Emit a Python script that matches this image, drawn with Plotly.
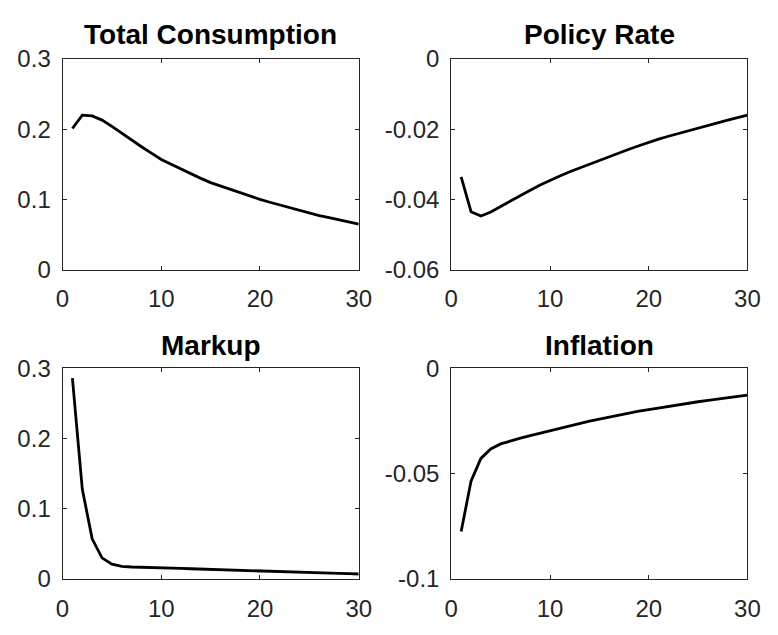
import plotly.graph_objects as go

periods = list(range(1, 31))

total_consumption = [0.201, 0.220, 0.219, 0.213, 0.204, 0.194, 0.184, 0.175, 0.166, 0.157,
                     0.150, 0.143, 0.136, 0.130, 0.124, 0.119, 0.114, 0.109, 0.104, 0.100,
                     0.096, 0.092, 0.088, 0.084, 0.081, 0.077, 0.074, 0.071, 0.068, 0.065]

policy_rate = [-0.0336, -0.0435, -0.0447, -0.0436, -0.0420, -0.0404, -0.0389, -0.0374, -0.0359, -0.0345,
               -0.0333, -0.0321, -0.0310, -0.0299, -0.0288, -0.0278, -0.0267, -0.0257, -0.0247, -0.0237,
               -0.0228, -0.0220, -0.0212, -0.0204, -0.0196, -0.0189, -0.0181, -0.0174, -0.0167, -0.0160]

markup = [0.286, 0.128, 0.057, 0.030, 0.021, 0.018, 0.017, 0.0168, 0.0164, 0.016,
          0.0155, 0.015, 0.0145, 0.014, 0.0135, 0.013, 0.0125, 0.012, 0.0115, 0.011,
          0.0106, 0.0102, 0.0098, 0.0094, 0.009, 0.0086, 0.0082, 0.0078, 0.0074, 0.007]

inflation = [-0.0775, -0.0536, -0.0428, -0.0383, -0.0359, -0.0344, -0.0332, -0.0320, -0.0308, -0.0296,
             -0.0285, -0.0273, -0.0262, -0.0251, -0.0241, -0.0231, -0.0222, -0.0213, -0.0204, -0.0196,
             -0.0188, -0.0180, -0.0173, -0.0166, -0.0159, -0.0152, -0.0146, -0.0140, -0.0134, -0.0128]

titles = ["Total Consumption", "Policy Rate", "Markup", "Inflation"]
series = [total_consumption, policy_rate, markup, inflation]
y_ranges = [[0, 0.3], [-0.06, 0], [0, 0.3], [-0.1, 0]]
y_ticks = [[0, 0.1, 0.2, 0.3], [-0.06, -0.04, -0.02, 0], [0, 0.1, 0.2, 0.3], [-0.1, -0.05, 0]]
y_ticktext = [["0", "0.1", "0.2", "0.3"], ["-0.06", "-0.04", "-0.02", "0"],
              ["0", "0.1", "0.2", "0.3"], ["-0.1", "-0.05", "0"]]
x_ticks = [0, 10, 20, 30]

W, H = 778, 635
boxes = [(57, 361, 47, 267), (456, 760, 47, 267), (57, 361, 370, 590), (456, 760, 370, 590)]
title_shift = [7, 7, 5, 5]

fig = go.Figure()
font_family = "Liberation Sans, Arial, sans-serif"
axis_color = "#262626"

for i, (t, s) in enumerate(zip(titles, series)):
    n = "" if i == 0 else str(i + 1)
    fig.add_trace(go.Scatter(x=periods, y=s, mode="lines",
                             line=dict(color="black", width=2.8),
                             xaxis="x" + n, yaxis="y" + n, showlegend=False))
    l, r, tp, b = boxes[i]
    xd = [l / W, r / W]
    yd = [1 - b / H, 1 - tp / H]
    common = dict(showgrid=False, zeroline=False, showline=True, mirror="ticks",
                  linecolor=axis_color, linewidth=1, ticks="inside", ticklen=4,
                  tickcolor=axis_color, tickwidth=1,
                  tickfont=dict(family=font_family, size=24, color=axis_color))
    fig.update_layout(**{
        "xaxis" + n: dict(domain=xd, range=[0, 30], tickvals=x_ticks,
                          anchor="y" + n, ticklabelstandoff=8, **common),
        "yaxis" + n: dict(domain=yd, range=y_ranges[i], tickvals=y_ticks[i],
                          ticktext=y_ticktext[i], anchor="x" + n,
                          ticklabelstandoff=6, **common),
    })
    fig.add_annotation(text="<b>" + t + "</b>", x=(xd[0] + xd[1]) / 2, y=yd[1],
                       xref="paper", yref="paper", xanchor="center", yanchor="bottom",
                       yshift=title_shift[i], showarrow=False,
                       font=dict(family=font_family, size=28, color="black"))

fig.update_layout(width=W, height=H, margin=dict(l=0, r=0, t=0, b=0),
                  paper_bgcolor="white", plot_bgcolor="white")

fig.write_html("out.html")
